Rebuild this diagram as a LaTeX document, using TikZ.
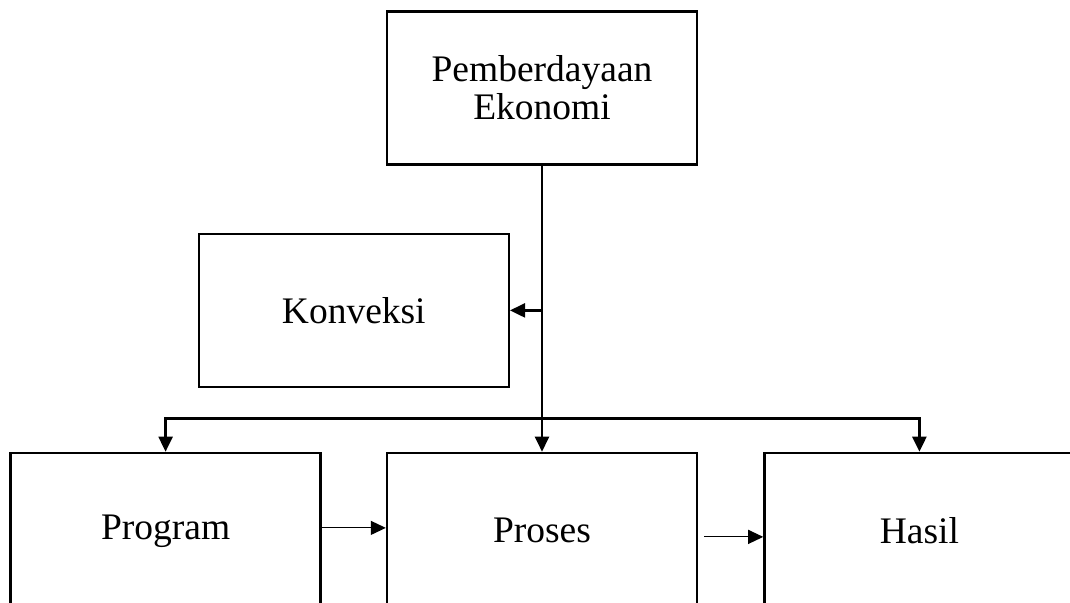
\documentclass[tikz,border=0pt]{standalone}
\usepackage{fontspec}
\setmainfont{Liberation Serif}
\usetikzlibrary{arrows.meta, positioning}
\tikzset{
	box/.style={rectangle, draw=black, fill=white, line width=2.4pt, align=center, minimum width=310pt, minimum height=153pt, font=\fontsize{37.5}{38}\selectfont},
	lowbox/.style={box, minimum height=156pt},
	arrow/.style={-{Triangle[length=15pt, width=14pt]}, line width=2.4pt},
	twoway/.style={{Triangle[length=15pt, width=14pt]}-{Triangle[length=15pt, width=14pt]}, line width=2.4pt},
	thinarrow/.style={-{Triangle[length=15pt, width=14pt]}, line width=1.2pt},
}
\begin{document}
\begin{tikzpicture}[x=1pt, y=1pt, node distance=64pt and 64pt]
		\useasboundingbox (0,0) rectangle (1070,602);
		\node[box] (pemb) at (542,514) {Pemberdayaan\\Ekonomi};
		\node[box, below left=67pt and 32pt of pemb.south] (konv) {Konveksi};
		\node[lowbox, below=286pt of pemb] (proses) {Proses};
		\node[lowbox, left=of proses] (program) {Program};
		\node[lowbox, right=65pt of proses] (hasil) {Hasil};
		\coordinate[above=33pt of proses.north] (split);
		\draw[arrow] (pemb.south) -- (proses.north);
		\draw[arrow] (pemb.south |- konv.east) -- (konv.east);
		\draw[twoway] (program.north) |- (split) -| (hasil.north);
		\draw[thinarrow] ([yshift=3pt]program.east) -- ([yshift=3pt]proses.west);
		\draw[thinarrow] ([xshift=6pt, yshift=-6pt]proses.east) -- ([yshift=-6pt]hasil.west);
	\end{tikzpicture}
\end{document}
